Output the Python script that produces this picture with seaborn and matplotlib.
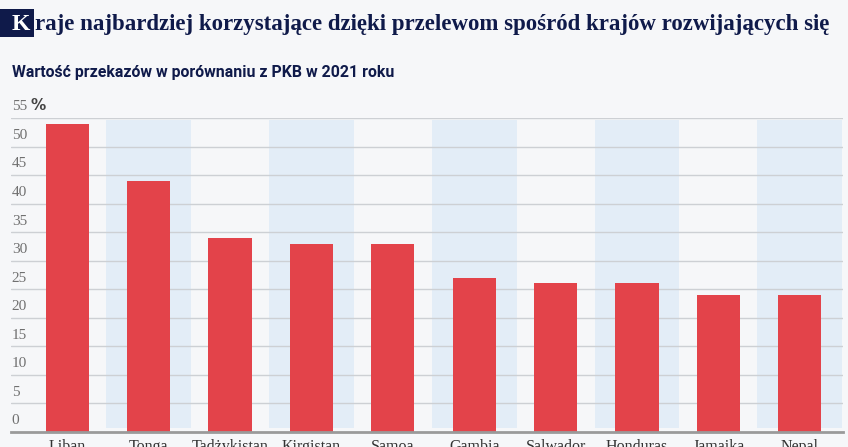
import matplotlib
matplotlib.use("Agg")
import matplotlib.pyplot as plt
import matplotlib.transforms as mtransforms
from matplotlib.patches import Rectangle
import seaborn as sns
import pandas as pd

# dane
kraje = ["Liban", "Tonga", "Tadżykistan", "Kirgistan", "Samoa",
         "Gambia", "Salwador", "Honduras", "Jamaika", "Nepal"]
wartosci = [54, 44, 34, 33, 33, 27, 26, 26, 24, 24]
y_ticks = [0, 5, 10, 15, 20, 25, 30, 35, 40, 45, 50, 55]

tytul = "raje najbardziej korzystające dzięki przelewom spośród krajów rozwijających się"
podtytul = "Wartość przekazów w porównaniu z PKB w 2021 roku"

BG = "#f6f7f9"
BAND = "#e3edf7"
RED = "#e3434a"
NAVY = "#0f1a4a"

df = pd.DataFrame({"kraj": kraje, "wartosc": wartosci})

sns.set_style("white")
plt.rcParams["font.family"] = ["Liberation Serif", "DejaVu Serif"]

fig = plt.figure(figsize=(8.48, 4.47), dpi=100, facecolor=BG)
ax = fig.add_axes([0.013, 0.034, 0.981, 0.702])
ax.set_facecolor(BG)

# pasy tła co drugi kraj
for i in range(1, len(kraje), 2):
    ax.axvspan(i - 0.52, i + 0.52, ymin=0.012, ymax=0.995, color=BAND, lw=0, zorder=0)

# linie siatki
for t in y_ticks[1:]:
    ax.axhline(t, color="#cdd0d4", lw=1, zorder=1)

sns.barplot(data=df, x="kraj", y="wartosc", color=RED, width=0.53,
            saturation=1, edgecolor="none", linewidth=0, ax=ax, zorder=3)

ax.set_ylim(0, 55)
ax.set_xlim(-0.69, 9.53)
ax.set_xlabel("")
ax.set_ylabel("")
ax.set_yticks([])
for s in ["top", "right", "left"]:
    ax.spines[s].set_visible(False)
ax.spines["bottom"].set_color("#9a9a9a")
ax.spines["bottom"].set_linewidth(2)
ax.spines["bottom"].set_zorder(5)
ax.tick_params(axis="x", length=0, pad=5, labelsize=11.5, labelcolor="#333333")

# etykiety osi Y nad liniami
trans = mtransforms.blended_transform_factory(ax.transAxes, ax.transData)
for t in y_ticks:
    ax.text(0.001, t + 0.8, str(t), transform=trans, ha="left", va="bottom",
            fontsize=11, color="#707070", zorder=6)
ax.text(0.024, 55 + 0.8, "%", transform=trans, ha="left", va="bottom",
        fontsize=11, fontweight="bold", color="#444444",
        family=["DejaVu Sans"], zorder=6)

# tytuł z wyróżnioną literą K
fig.patches.append(Rectangle((0.0, 1 - 37 / 447), 0.0405, 28 / 447,
                             transform=fig.transFigure, fc=NAVY, ec="none"))
fig.text(0.0245, 0.946, "K", ha="center", va="center", fontsize=17, color="white",
         fontweight="bold")
fig.text(0.041, 0.946, tytul, ha="left", va="center", fontsize=16.5, color=NAVY,
         fontweight="bold")

fig.text(0.014, 0.838, podtytul, ha="left", va="center", fontsize=11.4,
         fontweight="bold", color=NAVY, family=["Roboto", "DejaVu Sans"])

fig.savefig("out.png", dpi=100, facecolor=BG)
